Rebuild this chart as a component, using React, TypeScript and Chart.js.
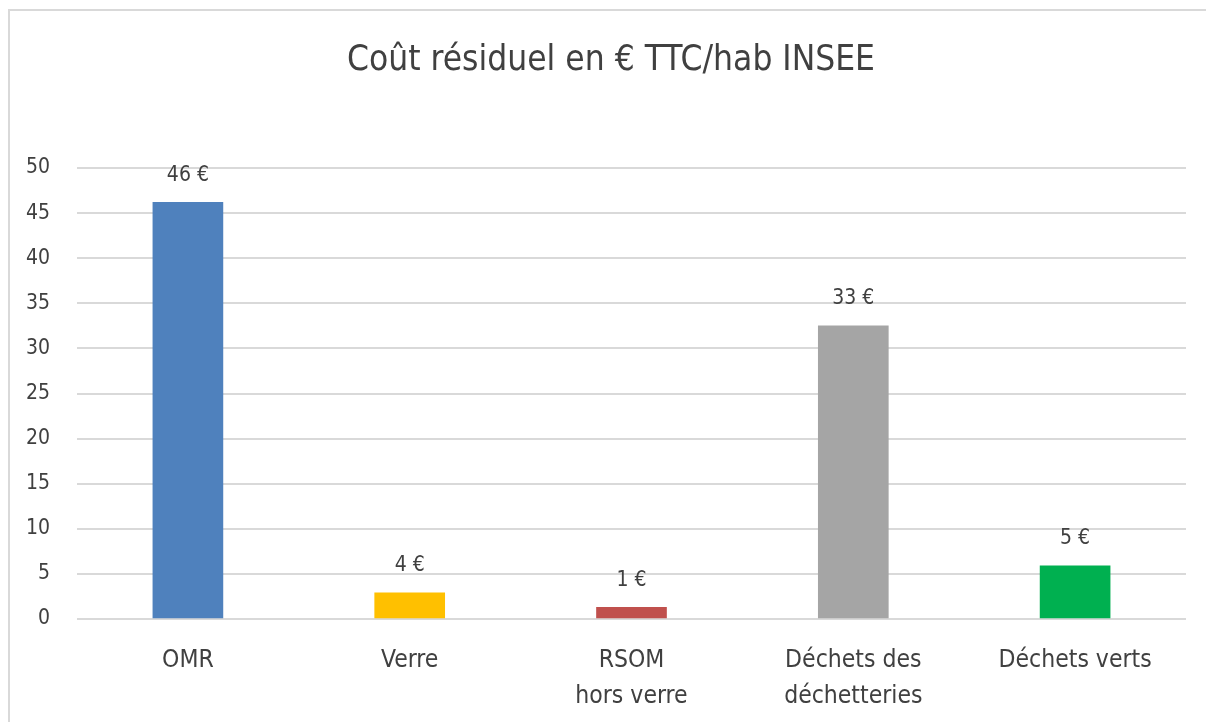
import React, { useEffect, useRef } from "react";
import { Chart, registerables } from "chart.js";

Chart.register(...registerables);

const categories: (string | string[])[] = [
  "OMR",
  "Verre",
  ["RSOM", "hors verre"],
  ["Déchets des", "déchetteries"],
  "Déchets verts",
];
const values: number[] = [46.2, 2.9, 1.3, 32.5, 5.9];
const valueLabels: string[] = ["46 €", "4 €", "1 €", "33 €", "5 €"];
const barColors: string[] = ["#4F81BD", "#FFC000", "#C0504D", "#A5A5A5", "#00B050"];
const yTicks: number[] = [0, 5, 10, 15, 20, 25, 30, 35, 40, 45, 50];
const title = "Coût résiduel en € TTC/hab INSEE";

const FONT = "'Liberation Sans Narrow', 'DejaVu Sans Condensed', 'Roboto', sans-serif";
const TEXT = "#404040";

const dataLabelPlugin = {
  id: "dataLabels",
  afterDatasetsDraw(chart: any) {
    const ctx = chart.ctx;
    const meta = chart.getDatasetMeta(0);
    ctx.save();
    ctx.font = `21px ${FONT}`;
    ctx.fillStyle = TEXT;
    ctx.textAlign = "center";
    ctx.textBaseline = "middle";
    meta.data.forEach((bar: any, i: number) => {
      ctx.fillText(valueLabels[i], bar.x, bar.y - 27);
    });
    ctx.restore();
  },
};

const titlePlugin = {
  id: "customTitle",
  afterDraw(chart: any) {
    const ctx = chart.ctx;
    ctx.save();
    ctx.font = `35px ${FONT}`;
    ctx.fillStyle = TEXT;
    ctx.textAlign = "center";
    ctx.textBaseline = "middle";
    ctx.fillText(title, 611, 61);
    ctx.restore();
  },
};

export default function App() {
  const ref = useRef<HTMLCanvasElement | null>(null);
  useEffect(() => {
    if (!ref.current) return;
    const chart = new Chart(ref.current, {
      type: "bar",
      data: {
        labels: categories,
        datasets: [
          {
            data: values,
            backgroundColor: barColors,
            borderWidth: 0,
            barThickness: 70,
          },
        ],
      },
      options: {
        responsive: false,
        animation: false,
        devicePixelRatio: 1,
        layout: { padding: { left: 0, right: 20, top: 168, bottom: 0 } },
        plugins: {
          legend: { display: false },
          tooltip: { enabled: false },
          title: { display: false },
        },
        scales: {
          x: {
            afterFit(scale: any) {
              scale.height = 103;
            },
            grid: { display: false, drawTicks: false },
            border: { display: false },
            ticks: {
              color: TEXT,
              padding: 24,
              font: { family: FONT, size: 24.5, lineHeight: 1.47 },
              maxRotation: 0,
              autoSkip: false,
            },
          },
          y: {
            min: 0,
            max: 50,
            afterFit(scale: any) {
              scale.width = 77;
            },
            afterBuildTicks(scale: any) {
              scale.ticks = yTicks.map((v) => ({ value: v }));
            },
            grid: { color: "#D9D9D9", lineWidth: 2, drawTicks: false },
            border: { display: false },
            ticks: {
              color: TEXT,
              padding: 27,
              font: { family: FONT, size: 21 },
            },
          },
        },
      },
      plugins: [dataLabelPlugin, titlePlugin],
    });
    return () => chart.destroy();
  }, []);

  return (
    <div style={{ position: "fixed", left: 0, top: 0, width: 1206, height: 722, background: "#fff", overflow: "hidden" }}>
      <div
        style={{
          position: "absolute",
          left: 8,
          top: 9,
          width: 1300,
          height: 800,
          border: "2px solid #D9D9D9",
          boxSizing: "border-box",
        }}
      />
      <canvas ref={ref} width={1206} height={722} style={{ position: "absolute", left: 0, top: 0 }} />
    </div>
  );
}
